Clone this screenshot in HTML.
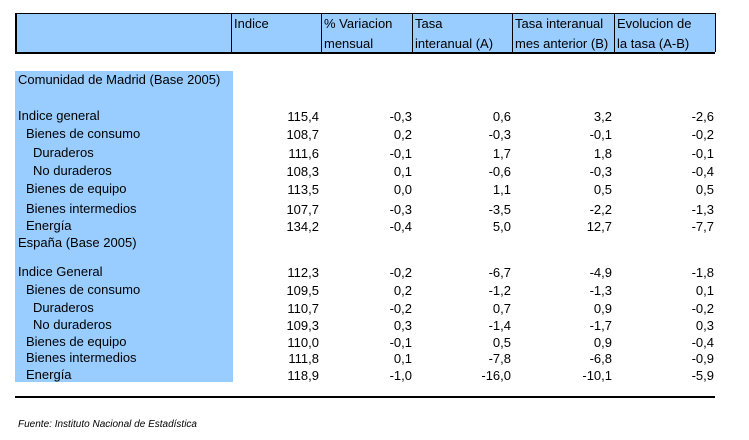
<!DOCTYPE html>
<html><head><meta charset="utf-8"><style>
body{margin:0;width:749px;height:440px;background:#fff;position:relative;font-family:"Liberation Sans",Arial,sans-serif;font-size:13px;color:#000;overflow:hidden}
.a{position:absolute;white-space:nowrap;line-height:15px}
.r{position:absolute;white-space:nowrap;line-height:15px;text-align:right;width:80px}
.v{position:absolute;top:13px;height:39px;width:1px;background:#000}
</style></head><body>
<div style="position:absolute;left:15px;top:13px;width:700px;height:38px;background:#99ccff;border-top:1px solid #000;border-bottom:2px solid #000"></div>
<div class="v" style="left:15px;width:2px"></div>
<div class="v" style="left:231px"></div>
<div class="v" style="left:321px"></div>
<div class="v" style="left:412px"></div>
<div class="v" style="left:512px"></div>
<div class="v" style="left:614px"></div>
<div class="v" style="left:715px"></div>
<div class="a" style="left:234px;top:14px;line-height:20px">Indice</div>
<div class="a" style="left:324px;top:14px;line-height:20px">% Variacion<br>mensual</div>
<div class="a" style="left:415px;top:14px;line-height:20px">Tasa<br>interanual (A)</div>
<div class="a" style="left:515px;top:14px;line-height:20px">Tasa interanual<br>mes anterior (B)</div>
<div class="a" style="left:617px;top:14px;line-height:20px">Evolucion de<br>la tasa (A-B)</div>
<div style="position:absolute;left:15px;top:71px;width:218px;height:311px;background:#99ccff"></div>
<div style="position:absolute;left:15px;top:396px;width:700px;height:2px;background:#000"></div>
<div class="a" style="left:18px;top:72px">Comunidad de Madrid (Base 2005)</div>
<div class="a" style="left:18px;top:235px">España (Base 2005)</div>
<div class="a" style="left:18px;top:417px;font-size:10px;font-style:italic">Fuente: Instituto Nacional de Estadística</div>
<div id="rows"></div>
<script>
var d=[
[108,"Indice general",18,"115,4","-0,3","0,6","3,2","-2,6"],
[126,"Bienes de consumo",26,"108,7","0,2","-0,3","-0,1","-0,2"],
[145,"Duraderos",33,"111,6","-0,1","1,7","1,8","-0,1"],
[163,"No duraderos",33,"108,3","0,1","-0,6","-0,3","-0,4"],
[181,"Bienes de equipo",26,"113,5","0,0","1,1","0,5","0,5"],
[201,"Bienes intermedios",26,"107,7","-0,3","-3,5","-2,2","-1,3"],
[218,"Energía",26,"134,2","-0,4","5,0","12,7","-7,7"],
[264,"Indice General",18,"112,3","-0,2","-6,7","-4,9","-1,8"],
[282,"Bienes de consumo",26,"109,5","0,2","-1,2","-1,3","0,1"],
[300,"Duraderos",33,"110,7","-0,2","0,7","0,9","-0,2"],
[317,"No duraderos",33,"109,3","0,3","-1,4","-1,7","0,3"],
[334,"Bienes de equipo",26,"110,0","-0,1","0,5","0,9","-0,4"],
[350,"Bienes intermedios",26,"111,8","0,1","-7,8","-6,8","-0,9"],
[367,"Energía",26,"118,9","-1,0","-16,0","-10,1","-5,9"]];
var rx=[319,412,511,612,714],h="";
d.forEach(function(r){h+='<div class="a" style="left:'+r[2]+'px;top:'+r[0]+'px">'+r[1]+'</div>';
for(var i=0;i<5;i++)h+='<div class="r" style="left:'+(rx[i]-80)+'px;top:'+(r[0]+1)+'px">'+r[3+i]+'</div>';});
document.getElementById("rows").innerHTML=h;
</script>
</body></html>
